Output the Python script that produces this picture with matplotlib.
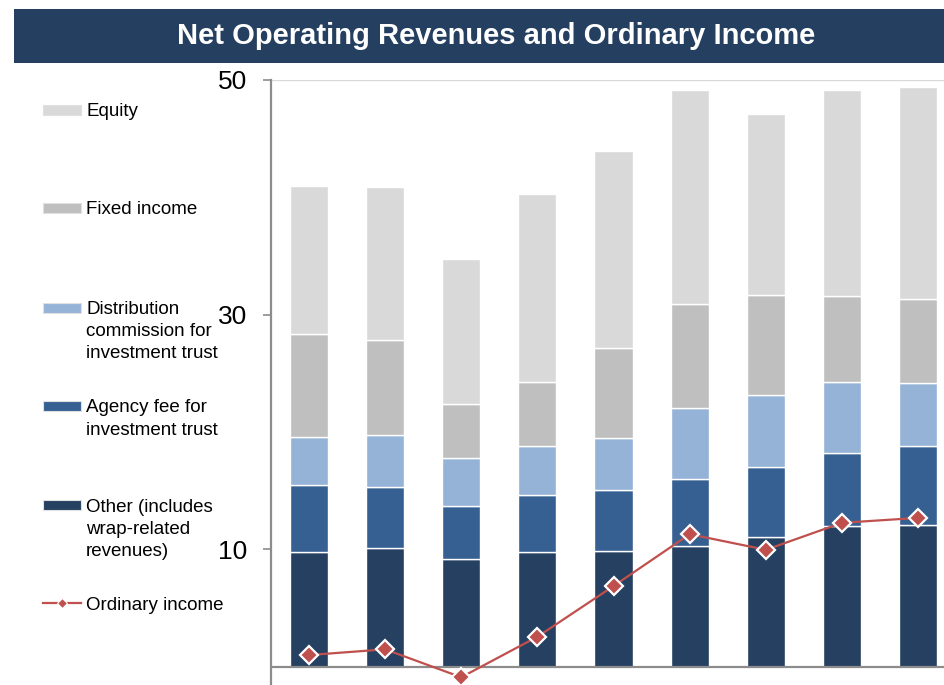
import matplotlib
matplotlib.use("Agg")
import matplotlib.pyplot as plt
from matplotlib.patches import Rectangle
from matplotlib.lines import Line2D
import numpy as np

plt.rcParams['font.family'] = ['Liberation Sans', 'DejaVu Sans']

# ---- data ----
periods = list(range(9))
other = [9.74, 10.11, 9.20, 9.74, 9.83, 10.31, 11.07, 12.01, 12.07]
agency = [5.73, 5.19, 4.51, 4.88, 5.22, 5.65, 5.96, 6.25, 6.75]
distribution = [4.15, 4.45, 4.06, 4.17, 4.42, 6.13, 6.13, 6.04, 5.33]
fixed_income = [8.73, 8.12, 4.60, 5.51, 7.69, 8.79, 8.48, 7.26, 7.21]
equity = [12.65, 13.05, 12.42, 16.02, 16.82, 18.24, 15.49, 17.61, 18.07]
ordinary_income = [1.00, 1.49, -0.89, 2.56, 6.88, 11.30, 9.97, 12.27, 12.69]
yticks = [10, 30, 50]

series = [
    ("Other (includes\nwrap-related\nrevenues)", other, "#254061"),
    ("Agency fee for\ninvestment trust", agency, "#366092"),
    ("Distribution\ncommission for\ninvestment trust", distribution, "#95B3D7"),
    ("Fixed income", fixed_income, "#BFBFBF"),
    ("Equity", equity, "#D9D9D9"),
]
line_color = "#C0504D"

W, H = 944, 685
fig = plt.figure(figsize=(W / 100, H / 100), dpi=100)

# title bar
fig.patches.append(Rectangle((14 / W, 1 - 62.5 / H), (W - 14) / W, 53.5 / H,
                             transform=fig.transFigure, facecolor="#243F60",
                             edgecolor="none", zorder=0))
fig.text(496 / W, 1 - 36 / H, "Net Operating Revenues and Ordinary Income",
         color="white", fontsize=21, fontweight="bold", ha="center", va="center")

ax_left = 270.5 / W
ax_top = 1 - 80 / H
ax = fig.add_axes([ax_left, 0.0, 1 - ax_left, ax_top])

x = np.array(periods)
bottom = np.zeros(len(x))
for name, vals, col in series:
    ax.bar(x, vals, width=0.5, bottom=bottom, color=col, edgecolor="white",
           linewidth=1.0, zorder=2)
    bottom += np.array(vals)

ax.plot(x, ordinary_income, color=line_color, lw=1.6, marker="D", ms=9,
        markerfacecolor=line_color, markeredgecolor="white", mew=1.6, zorder=4)

ax.set_xlim(-0.505, 8.34)
ax.set_ylim(-1.55, 50)
ax.axhline(0, color="#8C8C8C", lw=1.6, zorder=3)
ax.axhline(50, color="#D9D9D9", lw=1.0, zorder=1)
for s in ["top", "right", "bottom"]:
    ax.spines[s].set_visible(False)
ax.spines["left"].set_color("#8C8C8C")
ax.spines["left"].set_linewidth(1.6)
ax.set_xticks([])
ax.set_yticks(yticks)
ax.set_yticklabels([str(t) for t in yticks])
ax.tick_params(axis="y", length=6, width=1.2, color="#8C8C8C", pad=11,
               labelsize=19, labelcolor="black")

# manual legend
fs = 13.5
legend_items = [
    ("Equity", "#D9D9D9", 110),
    ("Fixed income", "#BFBFBF", 208),
    ("Distribution\ncommission for\ninvestment trust", "#95B3D7", 307.5),
    ("Agency fee for\ninvestment trust", "#366092", 406),
    ("Other (includes\nwrap-related\nrevenues)", "#254061", 505),
]
for label, col, yc in legend_items:
    fig.patches.append(Rectangle((43 / W, 1 - (yc + 5) / H), 38 / W, 10 / H,
                                 transform=fig.transFigure, facecolor=col,
                                 edgecolor="#E0E0E0", lw=0.8))
    fig.text(86 / W, 1 - (yc - 6.5) / H, label, fontsize=fs, ha="left",
             va="top", linespacing=1.4)

yc = 603
fig.lines.append(Line2D([43 / W, 81 / W], [1 - yc / H, 1 - yc / H],
                        transform=fig.transFigure, color=line_color, lw=1.6))
fig.lines.append(Line2D([62 / W], [1 - yc / H], transform=fig.transFigure,
                        marker="D", ms=5, color=line_color,
                        markeredgecolor="white", mew=0.8))
fig.text(86 / W, 1 - (yc - 6.5) / H, "Ordinary income", fontsize=fs,
         ha="left", va="top")

fig.savefig("out.png", dpi=100)
